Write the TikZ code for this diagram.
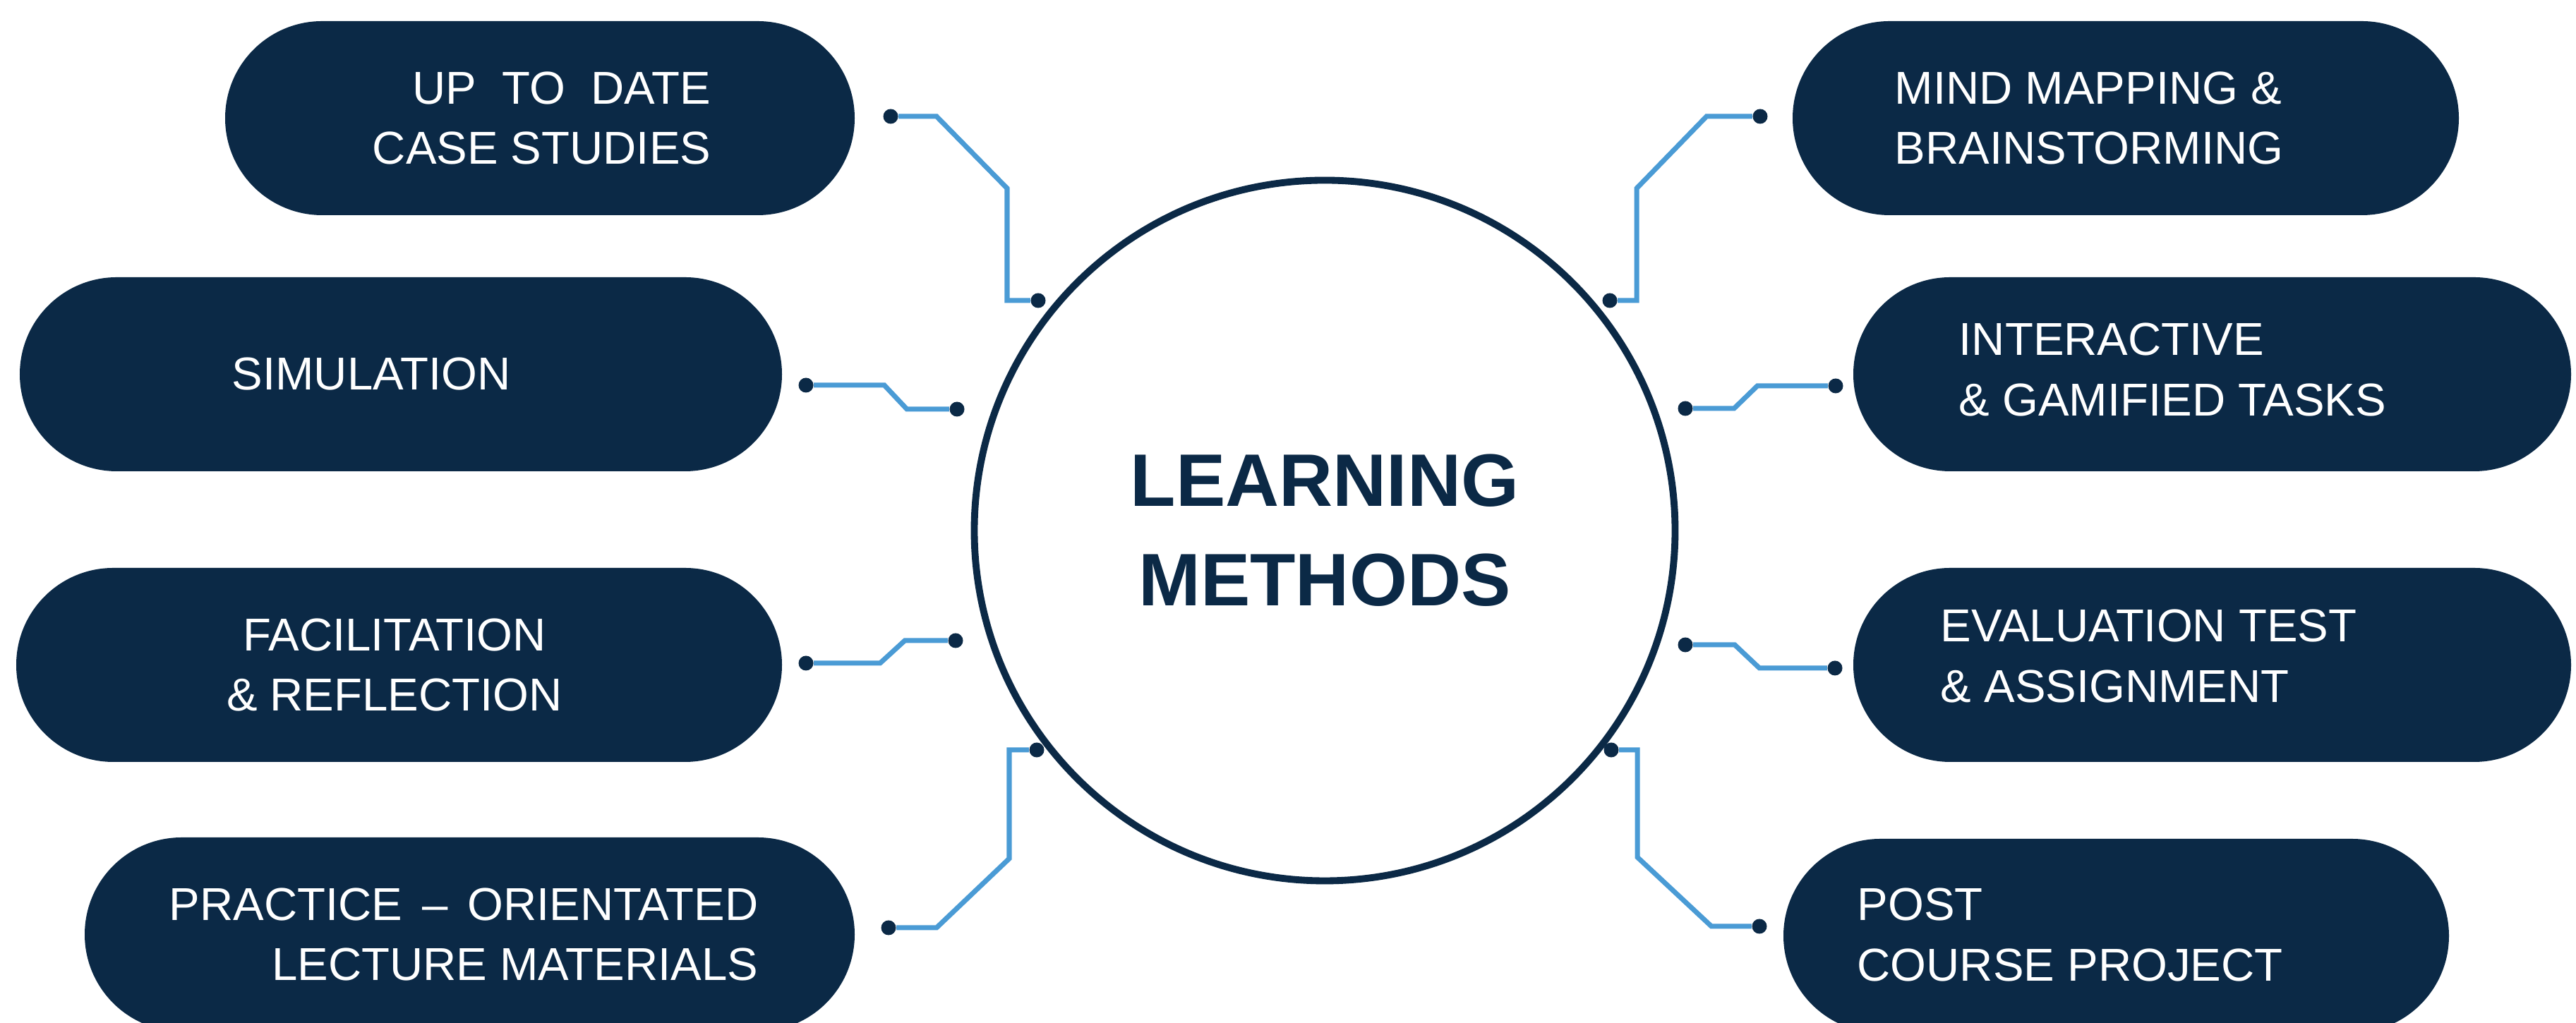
\documentclass[tikz,border=0pt]{standalone}
\usepackage{fontspec}
\setmainfont{Liberation Sans}
\usetikzlibrary{shapes.misc}
\definecolor{navy}{HTML}{0B2946}
\definecolor{wireblue}{HTML}{4A9BD5}

\begin{document}
\begin{tikzpicture}[
  pill/.style = {rounded rectangle, fill=navy, minimum height=2.75cm, inner sep=0pt},
  lbl/.style = {text=white, inner sep=0pt, font=\fontsize{18.6}{24.4}\selectfont},
  pin/.style = {circle, fill=navy, minimum size=0.21cm, inner sep=0pt},
  wire/.style = {wireblue, line width=2pt}
]
\path[use as bounding box, fill=white] (0,0) rectangle (36.5,14.5);

% centre
\path (18.77,6.98) node[circle, draw=navy, line width=2.8pt, minimum size=9.93cm,
  text=navy, align=center, font=\fontsize{30}{40}\selectfont\bfseries] (hub) {LEARNING\\METHODS};

% left column
\path (7.65,12.825) node[pill, minimum width=8.92cm] (updbox) {};
\path (10.08,12.825) node[lbl, align=right, anchor=east] (updtxt) {UP\ \ TO\ \ DATE\\CASE STUDIES};
\path (5.68,9.195) node[pill, minimum width=10.8cm] (simbox) {};
\path (3.28,9.195) node[lbl, anchor=west] (simtxt) {SIMULATION};
\path (5.655,5.075) node[pill, minimum width=10.85cm] (facbox) {};
\path (5.59,5.075) node[lbl, align=center] (factxt) {FACILITATION\\\& REFLECTION};
\path (6.655,1.255) node[pill, minimum width=10.91cm] (prabox) {};
\path (10.75,1.255) node[lbl, align=right, anchor=east] (pratxt) {PRACTICE\hspace{0.15em} -- \hspace{0.15em}ORIENTATED\\LECTURE MATERIALS};

% right column
\path (30.12,12.825) node[pill, minimum width=9.44cm] (mndbox) {};
\path (26.84,12.825) node[lbl, align=left, anchor=west] (mndtxt) {MIND MAPPING \&\\BRAINSTORMING};
\path (31.345,9.195) node[pill, minimum width=10.17cm] (intbox) {};
\path (27.75,9.26) node[lbl, align=left, anchor=west] (inttxt) {INTERACTIVE\\\& GAMIFIED TASKS};
\path (31.345,5.075) node[pill, minimum width=10.17cm] (evabox) {};
\path (27.49,5.2) node[lbl, align=left, anchor=west] (evatxt) {EVALUATION TEST\\\& ASSIGNMENT};
\path (29.985,1.235) node[pill, minimum width=9.43cm] (pstbox) {};
\path (26.31,1.25) node[lbl, align=left, anchor=west] (psttxt) {POST\\COURSE PROJECT};

% pins
\path (12.62,12.85) node[pin] (upd1) {};
\path (14.71,10.24) node[pin] (upd2) {};
\path (11.42,9.04) node[pin] (sim1) {};
\path (13.56,8.70) node[pin] (sim2) {};
\path (11.42,5.10) node[pin] (fac1) {};
\path (13.54,5.42) node[pin] (fac2) {};
\path (12.59,1.35) node[pin] (pra1) {};
\path (14.69,3.87) node[pin] (pra2) {};
\path (24.94,12.85) node[pin] (mnd1) {};
\path (22.81,10.24) node[pin] (mnd2) {};
\path (26.01,9.03) node[pin] (int1) {};
\path (23.88,8.71) node[pin] (int2) {};
\path (26.00,5.03) node[pin] (eva1) {};
\path (23.88,5.36) node[pin] (eva2) {};
\path (24.93,1.37) node[pin] (pst1) {};
\path (22.83,3.87) node[pin] (pst2) {};

% wires
\draw[wire] (upd1) -- (13.27,12.85) -- (14.27,11.83) |- (upd2);
\draw[wire] (sim1) -- (12.53,9.04) -- (12.85,8.70) -- (sim2);
\draw[wire] (fac1) -- (12.47,5.10) -- (12.82,5.42) -- (fac2);
\draw[wire] (pra1) -- (13.27,1.35) -- (14.30,2.33) |- (pra2);
\draw[wire] (mnd1) -- (24.18,12.85) -- (23.19,11.83) |- (mnd2);
\draw[wire] (int1) -- (24.90,9.03) -- (24.57,8.71) -- (int2);
\draw[wire] (eva1) -- (24.93,5.03) -- (24.58,5.36) -- (eva2);
\draw[wire] (pst1) -- (24.25,1.37) -- (23.20,2.35) |- (pst2);
\end{tikzpicture}
\end{document}
